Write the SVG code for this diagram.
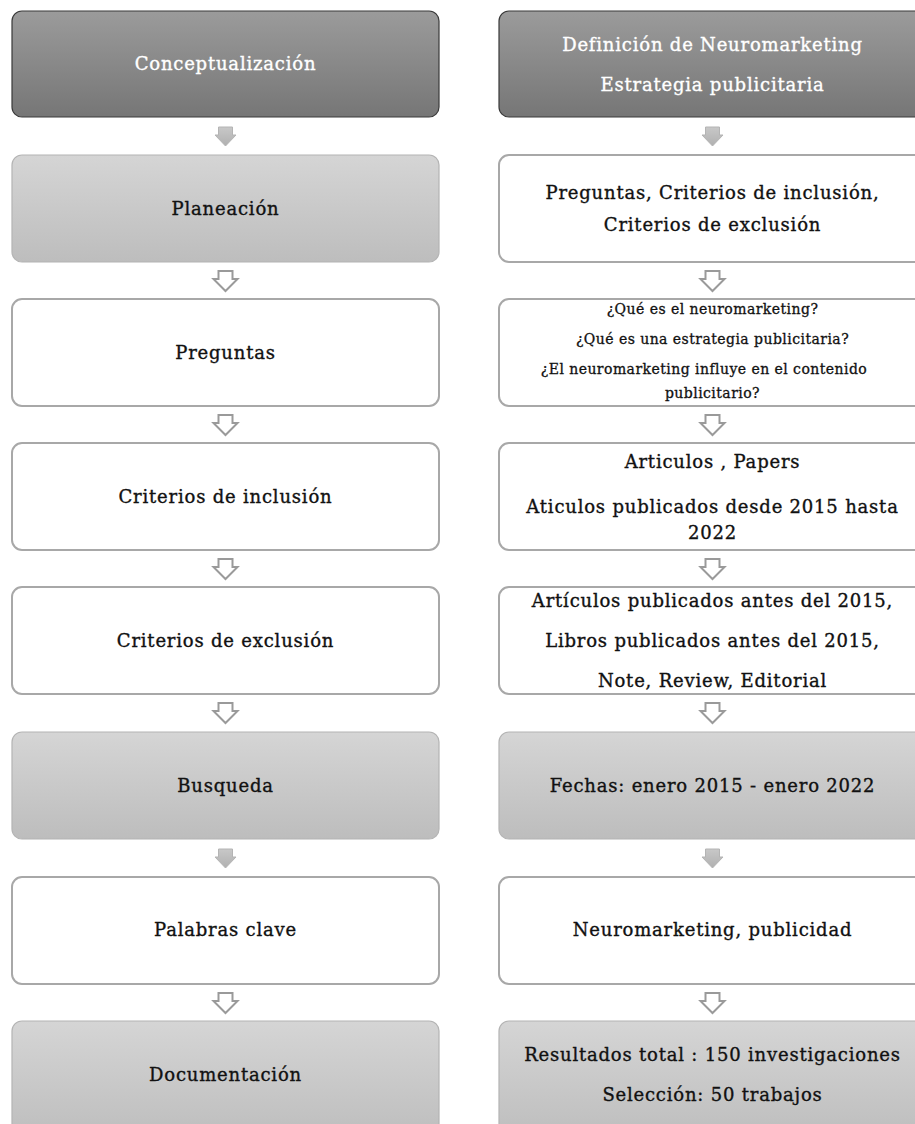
<svg xmlns="http://www.w3.org/2000/svg" width="915" height="1124" viewBox="0 0 915 1124">
<defs>
<linearGradient id="gDark" x1="0" y1="0" x2="0" y2="1"><stop offset="0" stop-color="#9b9b9b"/><stop offset="1" stop-color="#767676"/></linearGradient>
<linearGradient id="gLight" x1="0" y1="0" x2="0" y2="1"><stop offset="0" stop-color="#d5d5d5"/><stop offset="1" stop-color="#bdbdbd"/></linearGradient>
<linearGradient id="gArrow" x1="0" y1="0" x2="0" y2="1"><stop offset="0" stop-color="#c8c8c8"/><stop offset="1" stop-color="#b0b0b0"/></linearGradient>
<style>
.dark{fill:url(#gDark);stroke:#3a3a3a;stroke-width:1.2}
.light{fill:url(#gLight);stroke:#b4b4b4;stroke-width:1.2}
.white{fill:#fff;stroke:#a8a8a8;stroke-width:2}
text{font-family:"DejaVu Serif","Liberation Serif",serif;font-size:18px;letter-spacing:0.8px;fill:#111;stroke:#111;stroke-width:0.35px;text-anchor:middle}
.wt{fill:#fff;stroke:#fff}
.sm{font-size:14px;letter-spacing:0.45px;stroke-width:0.3px}
.af{fill:url(#gArrow);stroke:#b4b4b4;stroke-width:1}
.ah{fill:#fff;stroke:#9a9a9a;stroke-width:2}
</style>
<path id="arr" d="M-7,0 H7 V8 H10.5 L0,19 L-10.5,8 H-7 Z"/>
<path id="arrH" d="M-7,0 H7 V8 H12 L0,20 L-12,8 H-7 Z"/>
</defs>
<g id="connectors">
<use href="#arr" class="af" x="225.5" y="127"/>
<use href="#arr" class="af" x="712.5" y="127"/>
<use href="#arrH" class="ah" x="225.5" y="271"/>
<use href="#arrH" class="ah" x="712.5" y="271"/>
<use href="#arrH" class="ah" x="225.5" y="415"/>
<use href="#arrH" class="ah" x="712.5" y="415"/>
<use href="#arrH" class="ah" x="225.5" y="559"/>
<use href="#arrH" class="ah" x="712.5" y="559"/>
<use href="#arrH" class="ah" x="225.5" y="703"/>
<use href="#arrH" class="ah" x="712.5" y="703"/>
<use href="#arr" class="af" x="225.5" y="849"/>
<use href="#arr" class="af" x="712.5" y="849"/>
<use href="#arrH" class="ah" x="225.5" y="993"/>
<use href="#arrH" class="ah" x="712.5" y="993"/>
</g>
<g id="n-conceptualizacion"><rect class="dark" x="12" y="11" width="427" height="106" rx="10"/><text class="wt" x="225.5" y="70">Conceptualización</text></g>
<g id="n-definicion"><rect class="dark" x="499" y="11" width="427" height="106" rx="10"/><text class="wt" x="712.5" y="51">Definición de Neuromarketing</text><text class="wt" x="712.5" y="91">Estrategia publicitaria</text></g>
<g id="n-planeacion"><rect class="light" x="12" y="155" width="427" height="107" rx="10"/><text x="225.5" y="215">Planeación</text></g>
<g id="n-preg-crit"><rect class="white" x="499" y="155" width="427" height="107" rx="10"/><text x="712.5" y="199">Preguntas, Criterios de inclusión,</text><text x="712.5" y="231">Criterios de exclusión</text></g>
<g id="n-preguntas"><rect class="white" x="12" y="299" width="427" height="107" rx="10"/><text x="225.5" y="359">Preguntas</text></g>
<g id="n-preguntas-list"><rect class="white" x="499" y="299" width="427" height="107" rx="10"/><text class="sm" x="712.5" y="314">¿Qué es el neuromarketing?</text><text class="sm" x="712.5" y="344">¿Qué es una estrategia publicitaria?</text><text class="sm" x="704" y="374">¿El neuromarketing influye en el contenido</text><text class="sm" x="712.5" y="398">publicitario?</text></g>
<g id="n-inclusion"><rect class="white" x="12" y="443" width="427" height="107" rx="10"/><text x="225.5" y="503">Criterios de inclusión</text></g>
<g id="n-inclusion-det"><rect class="white" x="499" y="443" width="427" height="107" rx="10"/><text x="712.5" y="468">Articulos , Papers</text><text x="712.5" y="513">Aticulos publicados desde 2015 hasta</text><text x="712.5" y="539">2022</text></g>
<g id="n-exclusion"><rect class="white" x="12" y="587" width="427" height="107" rx="10"/><text x="225.5" y="647">Criterios de exclusión</text></g>
<g id="n-exclusion-det"><rect class="white" x="499" y="587" width="427" height="107" rx="10"/><text x="712.5" y="607">Artículos publicados antes del 2015,</text><text x="712.5" y="647">Libros publicados antes del 2015,</text><text x="712.5" y="687">Note, Review, Editorial</text></g>
<g id="n-busqueda"><rect class="light" x="12" y="732" width="427" height="107" rx="10"/><text x="225.5" y="792">Busqueda</text></g>
<g id="n-fechas"><rect class="light" x="499" y="732" width="427" height="107" rx="10"/><text x="712.5" y="792">Fechas: enero 2015 - enero 2022</text></g>
<g id="n-palabras"><rect class="white" x="12" y="877" width="427" height="107" rx="10"/><text x="225.5" y="936">Palabras clave</text></g>
<g id="n-keywords"><rect class="white" x="499" y="877" width="427" height="107" rx="10"/><text x="712.5" y="936">Neuromarketing, publicidad</text></g>
<g id="n-documentacion"><rect class="light" x="12" y="1021" width="427" height="120" rx="10"/><text x="225.5" y="1081">Documentación</text></g>
<g id="n-resultados"><rect class="light" x="499" y="1021" width="427" height="120" rx="10"/><text x="712.5" y="1061">Resultados total : 150 investigaciones</text><text x="712.5" y="1101">Selección: 50 trabajos</text></g>
</svg>
